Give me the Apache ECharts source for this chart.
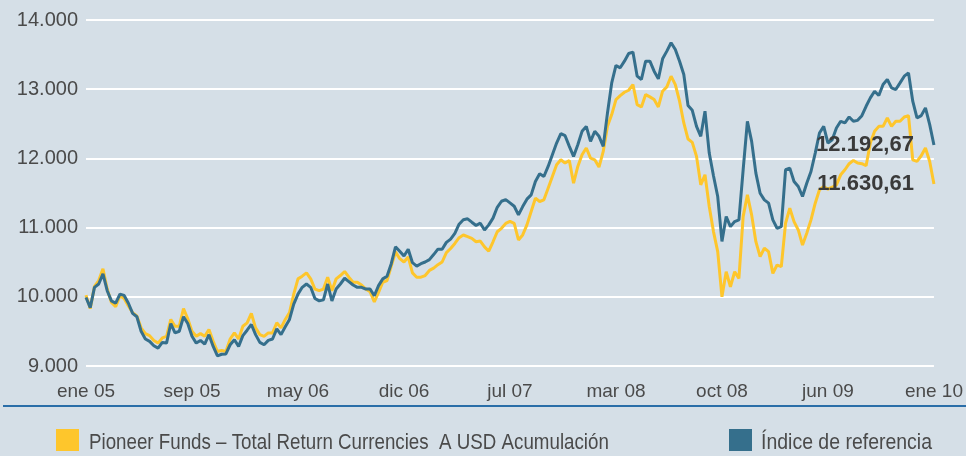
<!DOCTYPE html>
<html>
<head>
<meta charset="utf-8">
<script src="https://cdn.jsdelivr.net/npm/echarts@6/dist/echarts.min.js"></script>
<style>
html,body{margin:0;padding:0;background:#d5dfe7;}
#chart{width:966px;height:456px;}
</style>
</head>
<body>
<div id="chart"></div>
<script>
const tickLabels = ['ene 05','sep 05','may 06','dic 06','jul 07','mar 08','oct 08','jun 09','ene 10'];
const pointsPerTick = 25;
const categories = Array.from({length: (tickLabels.length - 1) * pointsPerTick + 1}, (_, i) => String(i));

const seriesNames = ['Pioneer Funds – Total Return Currencies  A USD Acumulación', 'Índice de referencia'];

const fundValues = [10024,9829,10151,10234,10405,10112,9917,9858,10015,9976,
9868,9771,9722,9551,9468,9439,9370,9331,9405,9429,
9673,9575,9575,9829,9683,9502,9429,9468,9429,9527,
9356,9209,9224,9209,9390,9478,9390,9575,9624,9761,
9551,9453,9429,9478,9478,9624,9551,9673,9771,10039,
10259,10298,10346,10259,10112,10088,10112,10283,10088,10259,
10307,10366,10283,10210,10210,10171,10112,10073,9927,10063,
10210,10234,10444,10649,10551,10503,10576,10346,10283,10283,
10307,10381,10415,10464,10503,10639,10698,10771,10854,10893,
10869,10844,10795,10805,10722,10659,10795,10940,10990,11060,
11090,11060,10821,10894,11039,11232,11425,11377,11401,11570,
11739,11908,11980,11932,11971,11642,11884,12053,12150,12005,
11980,11874,12101,12463,12633,12850,12908,12956,12985,13067,
12777,12744,12922,12889,12850,12744,12971,13033,13188,13067,
12826,12512,12280,12232,12029,11618,11763,11304,10942,10652,
10000,10362,10145,10362,10266,11159,11473,11184,10797,10580,
10701,10652,10338,10459,10435,11063,11280,11087,10966,10749,
10918,11111,11353,11546,11594,11555,11584,11618,11763,11836,
11923,11971,11932,11923,11894,12222,12391,12463,12463,12584,
12463,12536,12536,12599,12618,11980,11956,12038,12150,11956,
11630.61];

const indexValues = [9990,9844,10137,10185,10332,10088,9941,9907,10039,10020,
9907,9761,9712,9502,9390,9356,9293,9258,9341,9331,
9614,9478,9502,9712,9614,9429,9331,9370,9317,9453,
9283,9146,9170,9175,9307,9380,9283,9439,9517,9600,
9453,9341,9307,9370,9390,9536,9453,9566,9673,9893,
10039,10137,10185,10137,9976,9941,9956,10185,9941,10112,
10185,10268,10220,10171,10137,10137,10112,10112,10015,10161,
10259,10298,10478,10722,10659,10590,10688,10493,10444,10478,
10503,10537,10610,10688,10688,10786,10834,10917,11049,11113,
11127,11078,11030,11064,10966,11039,11137,11293,11381,11405,
11357,11308,11184,11304,11411,11473,11667,11778,11739,11884,
12053,12222,12357,12328,12174,12029,12198,12391,12463,12246,
12391,12319,12174,12657,13091,13343,13309,13405,13516,13536,
13188,13140,13405,13405,13260,13149,13439,13550,13671,13574,
13405,13212,12763,12695,12463,12319,12681,12077,11749,11449,
10800,11159,11014,11087,11111,11836,12536,12246,11787,11497,
11401,11353,11111,10990,11014,11836,11860,11667,11594,11449,
11642,11811,12077,12367,12463,12222,12270,12439,12536,12512,
12599,12536,12550,12618,12753,12874,12971,12908,13067,13140,
13019,12995,13091,13188,13236,12826,12584,12618,12729,12488,
12192.67];

const yTicks = {min: 9000, max: 14000, interval: 1000};

function fmtThousands(v) {
  return String(Math.round(v)).replace(/\B(?=(\d{3})+(?!\d))/g, '.');
}
function fmtEnd(v) {
  const parts = v.toFixed(2).split('.');
  return parts[0].replace(/\B(?=(\d{3})+(?!\d))/g, '.') + ',' + parts[1];
}

const YELLOW = '#fec62c';
const BLUE = '#356f8c';
const regular = '"Liberation Sans", Arial, sans-serif';

function endMark(values) {
  const last = values.length - 1;
  return {
    silent: true,
    symbol: 'circle',
    symbolSize: 0,
    animation: false,
    data: [{
      coord: [categories[last], values[last]],
      label: {
        show: true,
        position: 'left',
        distance: 20,
        formatter: fmtEnd(values[last]),
        color: '#3a3a3a',
        fontWeight: 'bold',
        fontSize: 22,
        fontFamily: regular
      }
    }]
  };
}

function legendText(name, x, sx) {
  return {
    type: 'text',
    x: x, y: 443,
    scaleX: sx, scaleY: 1,
    silent: true,
    style: {
      text: name,
      fontSize: 22,
      fontFamily: regular,
      fill: '#4a4a4a',
      verticalAlign: 'middle',
      align: 'left'
    }
  };
}

const chart = echarts.init(document.getElementById('chart'), null, {renderer: 'canvas'});
chart.setOption({
  animation: false,
  backgroundColor: '#d5dfe7',
  grid: {left: 86, right: 28, top: 20, bottom: 90, containLabel: false},
  xAxis: {
    type: 'category',
    data: categories,
    boundaryGap: false,
    axisLine: {show: false},
    axisTick: {show: false},
    splitLine: {show: false},
    axisLabel: {
      interval: pointsPerTick - 1,
      margin: 16,
      color: '#4a4a4a',
      fontSize: 19,
      fontFamily: regular,
      formatter: (v, i) => tickLabels[Math.round(i / pointsPerTick)]
    }
  },
  yAxis: {
    type: 'value',
    min: yTicks.min,
    max: yTicks.max,
    interval: yTicks.interval,
    axisLine: {show: false},
    axisTick: {show: false},
    splitLine: {lineStyle: {color: '#ffffff', width: 2}},
    axisLabel: {
      margin: 8,
      color: '#4a4a4a',
      fontSize: 20,
      fontFamily: regular,
      formatter: fmtThousands
    }
  },
  legend: [
    {
      data: [seriesNames[0]], left: 56, top: 429, padding: 0, itemWidth: 23, itemHeight: 22, icon: 'rect',
      formatter: () => '', textStyle: {fontSize: 1}
    },
    {
      data: [seriesNames[1]], left: 729, top: 429, padding: 0, itemWidth: 23, itemHeight: 22, icon: 'rect',
      formatter: () => '', textStyle: {fontSize: 1}
    }
  ],
  graphic: [
    {
      type: 'line',
      silent: true,
      shape: {x1: 3, y1: 406, x2: 966, y2: 406},
      style: {stroke: '#2a6ea8', lineWidth: 2}
    },
    legendText(seriesNames[0], 89, 0.852),
    legendText(seriesNames[1], 761, 0.885)
  ],
  series: [
    {
      name: seriesNames[0],
      type: 'line',
      data: fundValues,
      showSymbol: false,
      lineStyle: {color: YELLOW, width: 3},
      itemStyle: {color: YELLOW},
      markPoint: endMark(fundValues),
      z: 2
    },
    {
      name: seriesNames[1],
      type: 'line',
      data: indexValues,
      showSymbol: false,
      lineStyle: {color: BLUE, width: 3},
      itemStyle: {color: BLUE},
      markPoint: endMark(indexValues),
      z: 3
    }
  ]
});
</script>
</body>
</html>
